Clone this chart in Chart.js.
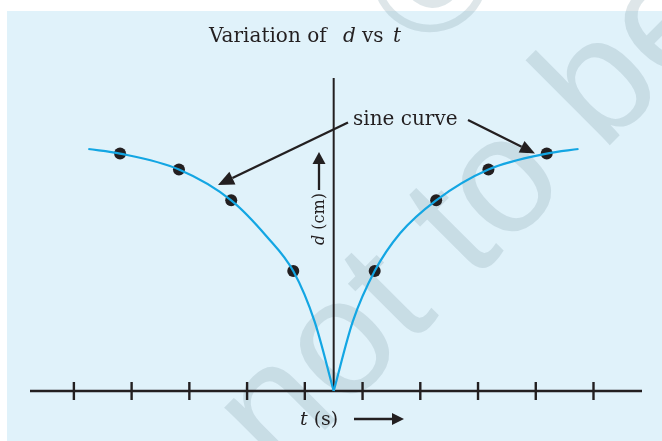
<!DOCTYPE html>
<html>
<head>
<meta charset="utf-8">
<script src="https://cdn.jsdelivr.net/npm/chart.js@4.4.1/dist/chart.umd.min.js"></script>
<style>
  html, body { margin: 0; padding: 0; background: #ffffff; }
  canvas { display: block; }
</style>
</head>
<body>
<canvas id="dtChart" width="662" height="441"></canvas>
<script>
// Curve (t in tick units, d in cm-ish units)
const leftT = [-4.25, -3.70, -2.68, -1.775, -1.157, -0.70, -0.33, 0];
const leftD = [10.05, 9.86, 9.20, 7.92, 6.41, 4.98, 2.88, 0];
const rightT = [0, 0.33, 0.71, 1.15, 1.775, 2.68, 3.69, 4.24];
const rightD = [0, 2.88, 4.98, 6.55, 7.92, 9.20, 9.86, 10.05];

// Measured dots
const dotT = [-3.70, -2.68, -1.775, -0.70, 0.71, 1.775, 2.68, 3.69];
const dotD = [9.86, 9.20, 7.92, 4.98, 4.98, 7.92, 9.20, 9.86];

// Tick marks on the t axis
const tickT = [-4.5, -3.5, -2.5, -1.5, -0.5, 0.5, 1.5, 2.5, 3.5, 4.5];

const INK = '#231f20';
const CURVE = '#13a6e3';
const SERIF = '"DejaVu Serif", serif';

function toPoints(xs, ys) {
    return xs.map((x, i) => ({ x: x, y: ys[i] }));
}

function arrow(ctx, x1, y1, x2, y2, head, width) {
    const a = Math.atan2(y2 - y1, x2 - x1);
    const bx = x2 - head * Math.cos(a), by = y2 - head * Math.sin(a);
    ctx.beginPath();
    ctx.moveTo(x1, y1);
    ctx.lineTo(bx, by);
    ctx.stroke();
    ctx.beginPath();
    ctx.moveTo(x2, y2);
    ctx.lineTo(bx + width / 2 * Math.sin(a), by - width / 2 * Math.cos(a));
    ctx.lineTo(bx - width / 2 * Math.sin(a), by + width / 2 * Math.cos(a));
    ctx.closePath();
    ctx.fill();
}

// Background panel, watermark, axes and labels
const figurePlugin = {
    id: 'figure',
    beforeDraw(chart) {
        const ctx = chart.ctx;
        ctx.save();
        ctx.fillStyle = '#ffffff';
        ctx.fillRect(0, 0, chart.width, chart.height);
        ctx.fillStyle = '#e0f2fa';
        ctx.fillRect(7, 11, chart.width - 7, chart.height - 11);

        // faint watermark
        ctx.fillStyle = 'rgba(140, 170, 180, 0.29)';
        ctx.font = '165px "Liberation Sans", sans-serif';
        ctx.textBaseline = 'alphabetic';
        ctx.textAlign = 'left';
        ctx.save();
        ctx.translate(278, 477);
        ctx.rotate(-Math.PI / 4);
        ctx.fillText('not to be', 0, 0);
        ctx.restore();
        ctx.save();
        ctx.translate(438, -18);
        ctx.rotate(-Math.PI / 4);
        ctx.textAlign = 'center';
        ctx.textBaseline = 'middle';
        ctx.fillText('\u00a9', 0, 0);
        ctx.restore();
        ctx.restore();
    },
    beforeDatasetsDraw(chart) {
        const ctx = chart.ctx;
        const xs = chart.scales.x, ys = chart.scales.y;
        const area = chart.chartArea;
        const y0 = ys.getPixelForValue(0);
        const x0 = xs.getPixelForValue(0);
        ctx.save();
        ctx.strokeStyle = INK;
        ctx.lineWidth = 2.4;
        ctx.beginPath();
        ctx.moveTo(area.left, y0);
        ctx.lineTo(area.right, y0);
        ctx.stroke();
        tickT.forEach(v => {
            const px = xs.getPixelForValue(v);
            ctx.beginPath();
            ctx.moveTo(px, y0 - 9);
            ctx.lineTo(px, y0 + 9);
            ctx.stroke();
        });
        ctx.lineWidth = 2;
        ctx.beginPath();
        ctx.moveTo(x0, area.top);
        ctx.lineTo(x0, y0);
        ctx.stroke();
        ctx.restore();
    },
    afterDraw(chart) {
        const ctx = chart.ctx;
        ctx.save();
        ctx.fillStyle = INK;
        ctx.strokeStyle = INK;
        ctx.textBaseline = 'alphabetic';
        ctx.textAlign = 'left';

        // title
        ctx.font = '20px ' + SERIF;
        ctx.fillText('Variation of', 209, 42);
        ctx.fillText('vs', 362, 42);
        ctx.font = 'italic 20px ' + SERIF;
        ctx.fillText('d', 343, 42);
        ctx.fillText('t', 393, 42);

        // annotation
        ctx.font = '20px ' + SERIF;
        ctx.fillText('sine curve', 353, 125);
        ctx.lineWidth = 2.3;
        arrow(ctx, 348, 122.5, 218, 185, 16, 14);
        arrow(ctx, 468, 120, 535, 153.5, 15, 13);

        // d (cm) label
        ctx.save();
        ctx.translate(324, 245);
        ctx.rotate(-Math.PI / 2);
        ctx.font = 'italic 16px ' + SERIF;
        ctx.fillText('d', 0, 0);
        const dw = ctx.measureText('d').width;
        ctx.font = '16px ' + SERIF;
        ctx.fillText(' (cm)', dw, 0);
        ctx.restore();
        arrow(ctx, 319, 190, 319, 152, 12, 13);

        // t (s) label
        ctx.font = 'italic 19px ' + SERIF;
        ctx.fillText('t', 300, 425);
        const tw = ctx.measureText('t').width;
        ctx.font = '19px ' + SERIF;
        ctx.fillText(' (s)', 300 + tw, 425);
        arrow(ctx, 354, 419, 404, 419, 12, 12);
        ctx.restore();
    }
};

const curveStyle = {
    showLine: true,
    borderColor: CURVE,
    borderWidth: 2.2,
    pointRadius: 0,
    cubicInterpolationMode: 'monotone',
    fill: false,
    clip: false
};

new Chart(document.getElementById('dtChart').getContext('2d'), {
    type: 'scatter',
    data: {
        datasets: [
            Object.assign({ label: 'left', data: toPoints(leftT, leftD) }, curveStyle),
            Object.assign({ label: 'right', data: toPoints(rightT, rightD) }, curveStyle),
            {
                label: 'dots',
                data: toPoints(dotT, dotD),
                showLine: false,
                pointRadius: 6,
                pointBackgroundColor: INK,
                pointBorderColor: INK,
                pointBorderWidth: 0,
                clip: false
            }
        ]
    },
    options: {
        responsive: false,
        animation: false,
        layout: { padding: { left: 30, right: 20, top: 78, bottom: 50 } },
        plugins: {
            legend: { display: false },
            tooltip: { enabled: false },
            title: { display: false }
        },
        scales: {
            x: { type: 'linear', min: -5.26, max: 5.34, display: false },
            y: { type: 'linear', min: 0, max: 13, display: false }
        }
    },
    plugins: [figurePlugin]
});
</script>
</body>
</html>
